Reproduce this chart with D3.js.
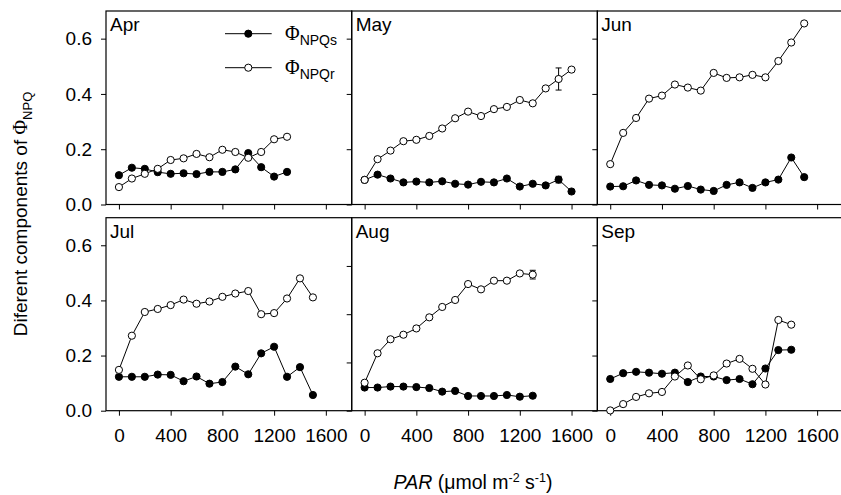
<!DOCTYPE html>
<html><head><meta charset="utf-8">
<script src="https://cdn.jsdelivr.net/npm/d3@7"></script>
<style>
body{margin:0;background:#fff}
svg{display:block}
text{font-family:"Liberation Sans",Arial,sans-serif;fill:#000}
</style>
</head><body>
<svg id="c" width="841" height="495"></svg>
<script>
// ---------- data ----------
const months = ["Apr","May","Jun","Jul","Aug","Sep"];

const parApr = [0,100,200,300,400,500,600,700,800,900,1000,1100,1200,1300];
const npqsApr = [0.106,0.133,0.129,0.117,0.111,0.113,0.110,0.118,0.118,0.127,0.186,0.135,0.101,0.118];
const npqrApr = [0.063,0.094,0.111,0.129,0.161,0.167,0.183,0.171,0.198,0.190,0.169,0.190,0.236,0.245];

const parMay = [0,100,200,300,400,500,600,700,800,900,1000,1100,1200,1300,1400,1500,1600];
const npqsMay = [0.089,0.108,0.094,0.080,0.083,0.080,0.084,0.075,0.072,0.082,0.080,0.094,0.065,0.075,0.069,0.090,0.047];
const npqrMay = [0.089,0.164,0.195,0.229,0.234,0.248,0.275,0.312,0.336,0.320,0.345,0.353,0.378,0.366,0.420,0.454,0.488];

const parJun = [0,100,200,300,400,500,600,700,800,900,1000,1100,1200,1300,1400,1500];
const npqsJun = [0.065,0.066,0.087,0.071,0.069,0.057,0.067,0.054,0.049,0.071,0.080,0.060,0.080,0.090,0.170,0.099];
const npqrJun = [0.146,0.259,0.313,0.383,0.394,0.434,0.423,0.412,0.476,0.458,0.460,0.469,0.460,0.519,0.586,0.655];

const parJul = [0,100,200,300,400,500,600,700,800,900,1000,1100,1200,1300,1400,1500];
const npqsJul = [0.123,0.123,0.123,0.131,0.130,0.107,0.124,0.098,0.104,0.160,0.132,0.208,0.232,0.123,0.158,0.057];
const npqrJul = [0.148,0.272,0.358,0.369,0.383,0.403,0.388,0.396,0.413,0.425,0.434,0.350,0.354,0.407,0.480,0.411];

// Aug panel is drawn on its own 0–0.8 scale (as in the source figure)
const parAug = [0,100,200,300,400,500,600,700,800,900,1000,1100,1200,1300];
const npqsAug = [0.096,0.096,0.100,0.100,0.098,0.094,0.079,0.082,0.061,0.061,0.061,0.065,0.058,0.062];
const npqrAug = [0.116,0.238,0.296,0.315,0.341,0.387,0.430,0.459,0.525,0.503,0.539,0.539,0.569,0.564];

const parSep = [0,100,200,300,400,500,600,700,800,900,1000,1100,1200,1300,1400];
const npqsSep = [0.115,0.136,0.141,0.138,0.134,0.138,0.104,0.124,0.124,0.111,0.115,0.096,0.153,0.220,0.221];
const npqrSep = [0.001,0.024,0.050,0.063,0.068,0.124,0.164,0.114,0.128,0.171,0.188,0.152,0.095,0.329,0.312];

const panelMaxY = [0.7,0.7,0.7,0.7,0.8,0.7];
const yTicks = [0.0,0.2,0.4,0.6];
const xTicks = [0,400,800,1200,1600];
const xDomain = [-100,1800];

// error bars: month, series, PAR, half-width
const errMonth = ["May","May","Aug"];
const errSeries = ["r","s","r"];
const errPar = [1500,1500,1300];
const errVal = [0.040,0.012,0.018];

const panelData = [
  {par:parApr, s:npqsApr, r:npqrApr},
  {par:parMay, s:npqsMay, r:npqrMay},
  {par:parJun, s:npqsJun, r:npqrJun},
  {par:parJul, s:npqsJul, r:npqrJul},
  {par:parAug, s:npqsAug, r:npqrAug},
  {par:parSep, s:npqsSep, r:npqrSep}
];

// ---------- layout ----------
const svg = d3.select("#c");
const colLeft = [106, 351.7, 597.3];
const panelW = 245.7;
const rowTop = [11, 217.7];
const panelH = [193.5, 193];
const FS = 19;

months.forEach((m, i) => {
  const col = i % 3, row = Math.floor(i / 3);
  const x0 = colLeft[col], y0 = rowTop[row], h = panelH[row];
  const g = svg.append("g").attr("transform", `translate(${x0},${y0})`);
  const x = d3.scaleLinear().domain(xDomain).range([0, panelW]);
  const y = d3.scaleLinear().domain([0, panelMaxY[i]]).range([h, 0]);

  // y axis
  const ya = d3.axisLeft(y).tickValues(yTicks).tickSize(5).tickPadding(9)
    .tickFormat(col === 0 ? d3.format(".1f") : () => "");
  const yg = g.append("g").call(ya);
  yg.select(".domain").remove();
  yg.selectAll("text").style("font-size", FS + "px").style("font-family", '"Liberation Sans",Arial,sans-serif');
  yg.selectAll("line").attr("stroke", "#000");

  // x axis
  const xa = d3.axisBottom(x).tickValues(xTicks).tickSize(5).tickPadding(13)
    .tickFormat(row === 1 ? d3.format("d") : () => "");
  const xg = g.append("g").attr("transform", `translate(0,${h})`).call(xa);
  xg.select(".domain").remove();
  xg.selectAll("text").style("font-size", FS + "px").style("font-family", '"Liberation Sans",Arial,sans-serif');
  xg.selectAll("line").attr("stroke", "#000");

  // frame
  g.append("rect").attr("x", 0).attr("y", 0).attr("width", panelW).attr("height", h)
    .attr("fill", "none").attr("stroke", "#000").attr("stroke-width", 1.2);

  // month label
  g.append("text").attr("x", 4).attr("y", 20).style("font-size", "19px").text(m);

  const d = panelData[i];
  const line = key => d3.line().x((_, j) => x(d.par[j])).y(v => y(v))(d[key]);

  // error bars
  errMonth.forEach((em, k) => {
    if (em !== m) return;
    const j = d.par.indexOf(errPar[k]);
    const v = d[errSeries[k]][j];
    const cx = x(errPar[k]);
    const eg = g.append("g").attr("stroke", "#000").attr("stroke-width", 1);
    eg.append("line").attr("x1", cx).attr("x2", cx).attr("y1", y(v - errVal[k])).attr("y2", y(v + errVal[k]));
    [v - errVal[k], v + errVal[k]].forEach(e => {
      eg.append("line").attr("x1", cx - 3).attr("x2", cx + 3).attr("y1", y(e)).attr("y2", y(e));
    });
  });

  ["s", "r"].forEach(key => {
    g.append("path").attr("d", line(key)).attr("fill", "none").attr("stroke", "#000").attr("stroke-width", 1);
    g.selectAll(null).data(d[key]).enter().append("circle")
      .attr("cx", (_, j) => x(d.par[j])).attr("cy", v => y(v)).attr("r", 3.6)
      .attr("fill", key === "s" ? "#000" : "#fff").attr("stroke", "#000").attr("stroke-width", 1);
  });

  // legend in first panel
  if (i === 0) {
    const legY = [22.7, 56.7];
    const legKeys = ["s", "r"];
    const legSub = ["NPQs", "NPQr"];
    legKeys.forEach((k, n) => {
      const lg = g.append("g").attr("transform", `translate(0,${legY[n]})`);
      lg.append("line").attr("x1", 119).attr("x2", 165.7).attr("y1", 0).attr("y2", 0).attr("stroke", "#000");
      lg.append("circle").attr("cx", 142.3).attr("cy", 0).attr("r", 3.6)
        .attr("fill", k === "s" ? "#000" : "#fff").attr("stroke", "#000");
      const t = lg.append("text").attr("x", 179).attr("y", 6);
      t.append("tspan").style("font-family", '"Liberation Serif","Times New Roman",serif').style("font-size", "20px").text("Φ");
      t.append("tspan").attr("dy", 5).style("font-size", "14px").text(legSub[n]);
    });
  }
});

// y axis title
const yt = svg.append("text").attr("transform", "translate(27,214) rotate(-90)")
  .attr("text-anchor", "middle").style("font-size", "19px");
yt.append("tspan").text("Diferent components of ");
yt.append("tspan").style("font-family", '"Liberation Serif","Times New Roman",serif').style("font-size", "20px").text("Φ");
yt.append("tspan").attr("dy", 5).style("font-size", "13px").text("NPQ");

// x axis title
const xt = svg.append("text").attr("x", 473).attr("y", 489).attr("text-anchor", "middle").style("font-size", "19.5px");
xt.append("tspan").style("font-style", "italic").text("PAR");
xt.append("tspan").text(" (μmol m");
xt.append("tspan").attr("dy", -7).style("font-size", "12.5px").text("-2");
xt.append("tspan").attr("dy", 7).text(" s");
xt.append("tspan").attr("dy", -7).style("font-size", "12.5px").text("-1");
xt.append("tspan").attr("dy", 7).text(")");
</script>
</body></html>
